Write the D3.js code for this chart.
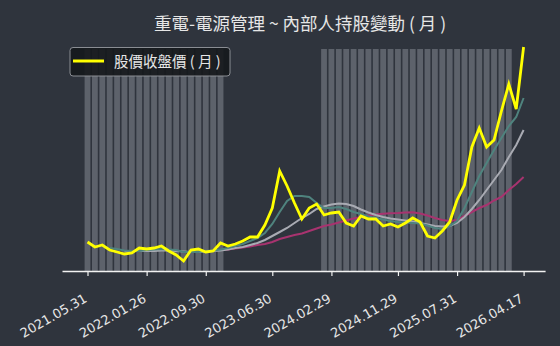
<!DOCTYPE html>
<html>
<head>
<meta charset="utf-8">
<script src="https://cdn.jsdelivr.net/npm/d3@7/dist/d3.min.js"></script>
<style>
  html, body { margin: 0; padding: 0; background: #2f343d; }
  svg { display: block; }
</style>
</head>
<body>
<svg id="chart" width="560" height="346"></svg>
<script>
// ---- data ----
const months = [
  "2021-05","2021-06","2021-07","2021-08","2021-09","2021-10","2021-11","2021-12",
  "2022-01","2022-02","2022-03","2022-04","2022-05","2022-06","2022-07","2022-08",
  "2022-09","2022-10","2022-11","2022-12","2023-01","2023-02","2023-03","2023-04",
  "2023-05","2023-06","2023-07","2023-08","2023-09","2023-10","2023-11","2023-12",
  "2024-01","2024-02","2024-03","2024-04","2024-05","2024-06","2024-07","2024-08",
  "2024-09","2024-10","2024-11","2024-12","2025-01","2025-02","2025-03","2025-04",
  "2025-05","2025-06","2025-07","2025-08","2025-09","2025-10","2025-11","2025-12",
  "2026-01","2026-02","2026-03","2026-04"
];
const tickMonths = ["2021-05","2022-01","2022-09","2023-06","2024-02","2024-11","2025-07","2026-04"];
const tickLabels = ["2021.05.31","2022.01.26","2022.09.30","2023.06.30","2024.02.29","2024.11.29","2025.07.31","2026.04.17"];

// monthly close price
const closePrice = [29,24,26,21,19,17,18,23,22,23, 25,20,16,10,21,22,19,20,28,25,
  27,30,34,34,46,63,100,85,68,52, 63,67,56,58,59,48,45,55,52,52,
  45,47,44,48,53,49,35,33,40,49, 71,86,124,143,124,131,160,187,162,224];
// moving-average style lines
const lineTeal = [null,null,null,23,22,20.5,20,20,21,21.5, 22,21.5,21,19,19,19,20,20.5,21.5,23,
  25,27,30,33,38,47,59,70,75,75, 74,68,63,63,64,62,59,57,54.5,53,
  51.5,50,49,48.5,48,47.5,45.5,43,42,45, 50,63,79,95,108,121,133,145,154,173];
const lineGray = [null,null,null,null,null,20,20,20,20,20, 20.5,20.5,20,19.5,19,19,19.5,20,20.5,21.5,
  23,24,26,28,31,35,39,43,48,53, 57,62,64.5,66.5,67.5,67,65,61.5,58.5,56,
  54,52.5,51.5,50.5,49.5,48,46.5,45,44.5,45, 48,54,62,71,81,91,101,114,126,141];
const lineMagenta = [null,null,null,null,null,null,null,null,null,null, null,null,null,null,null,null,null,null,21,21.5,
  22.5,23.5,24.5,26,27,29,32,34,36,37.5, 40,42.5,45,46.5,48.5,50.5,52.5,54,55.5,56.5,
  57.2,57.7,58,58.5,58.7,57.5,55.5,53,51,50, 51,55,59,63,66,70.5,74,81,87,94];
// insider holding bars (null = no record)
const holding = [3.42,3.42,3.42,3.42,3.42,3.42,3.42,3.42,3.42,3.42, 3.42,3.42,3.42,3.42,3.42,3.42,3.42,3.42,3.42,null,
  null,null,null,null,null,null,null,null,null,null, null,null,3.42,3.42,3.42,3.42,3.42,3.42,3.42,3.42,
  3.42,3.42,3.42,3.42,3.42,3.42,3.42,3.42,3.42,3.42, 3.42,3.42,3.42,3.42,3.42,3.42,3.42,3.42,null,null];

const title = "重電-電源管理 ~ 內部人持股變動 ( 月 )";
const legendLabel = "股價收盤價 ( 月 )";

// ---- drawing ----
const svg = d3.select("#chart");
const W = 560, H = 346;
svg.append("rect").attr("width", W).attr("height", H).attr("fill", "#2f343d");

const axisY = 271;
const x = d3.scalePoint().domain(months).range([87.5, 523.6]);
const yPrice = d3.scaleLinear().domain([0, 225]).range([axisY, 46]);
const yHold = d3.scaleLinear().domain([0, d3.max(holding)]).range([axisY, 49]);

// bars
const barW = 5.8;
svg.append("g").selectAll("rect")
  .data(months.map((m, i) => ({m, v: holding[i]})).filter(d => d.v != null))
  .join("rect")
  .attr("x", d => x(d.m) - barW / 2)
  .attr("width", barW)
  .attr("y", d => yHold(d.v))
  .attr("height", d => axisY - yHold(d.v))
  .attr("fill", "#5d626b");

// lines
function drawLine(arr, color, width) {
  const line = d3.line()
    .defined(d => d.v != null)
    .x(d => x(d.m))
    .y(d => yPrice(d.v));
  svg.append("path")
    .datum(months.map((m, i) => ({m, v: arr[i]})))
    .attr("d", line)
    .attr("fill", "none")
    .attr("stroke", color)
    .attr("stroke-width", width)
    .attr("stroke-linejoin", "miter")
    .attr("stroke-linecap", "butt");
}
drawLine(lineMagenta, "#a8336f", 2);
drawLine(lineGray, "#a9abb3", 2);
drawLine(lineTeal, "#4f837e", 2);
drawLine(closePrice, "#ffff00", 2.8);

// x axis
const xAxis = d3.axisBottom(x)
  .tickValues(tickMonths)
  .tickFormat(m => tickLabels[tickMonths.indexOf(m)])
  .tickSize(5)
  .tickSizeOuter(0);
const gx = svg.append("g").attr("transform", `translate(0,${axisY})`).call(xAxis);
gx.select(".domain")
  .attr("d", `M${x(months[0]) - 25},0.5H${x(months[months.length - 1]) + 22}`)
  .attr("stroke", "#f2f2f2").attr("stroke-width", 1.5);
gx.selectAll(".tick line").attr("stroke", "#f2f2f2").attr("stroke-width", 1.2);
gx.selectAll(".tick text")
  .attr("fill", "#e6e6e6")
  .attr("font-family", "DejaVu Sans, sans-serif")
  .attr("font-size", 13)
  .attr("text-anchor", "end")
  .attr("dy", null)
  .attr("y", null)
  .attr("transform", "translate(0,30) rotate(-30)");

// title
svg.append("text")
  .attr("x", 300).attr("y", 30)
  .attr("text-anchor", "middle")
  .attr("font-family", "Noto Sans CJK TC, sans-serif")
  .attr("font-size", 17.5)
  .attr("fill", "#e6e6e6")
  .text(title);

// legend
const lg = svg.append("g");
lg.append("rect")
  .attr("x", 70).attr("y", 47.5).attr("width", 160).attr("height", 28.5)
  .attr("rx", 3)
  .attr("fill", "#15181c").attr("fill-opacity", 0.9)
  .attr("stroke", "#8a8d93").attr("stroke-width", 1);
lg.append("line")
  .attr("x1", 73).attr("x2", 104).attr("y1", 61).attr("y2", 61)
  .attr("stroke", "#ffff00").attr("stroke-width", 3);
lg.append("text")
  .attr("x", 114).attr("y", 66.5)
  .attr("font-family", "Noto Sans CJK TC, sans-serif")
  .attr("font-size", 14.5)
  .attr("fill", "#e6e6e6")
  .text(legendLabel);
</script>
</body>
</html>
